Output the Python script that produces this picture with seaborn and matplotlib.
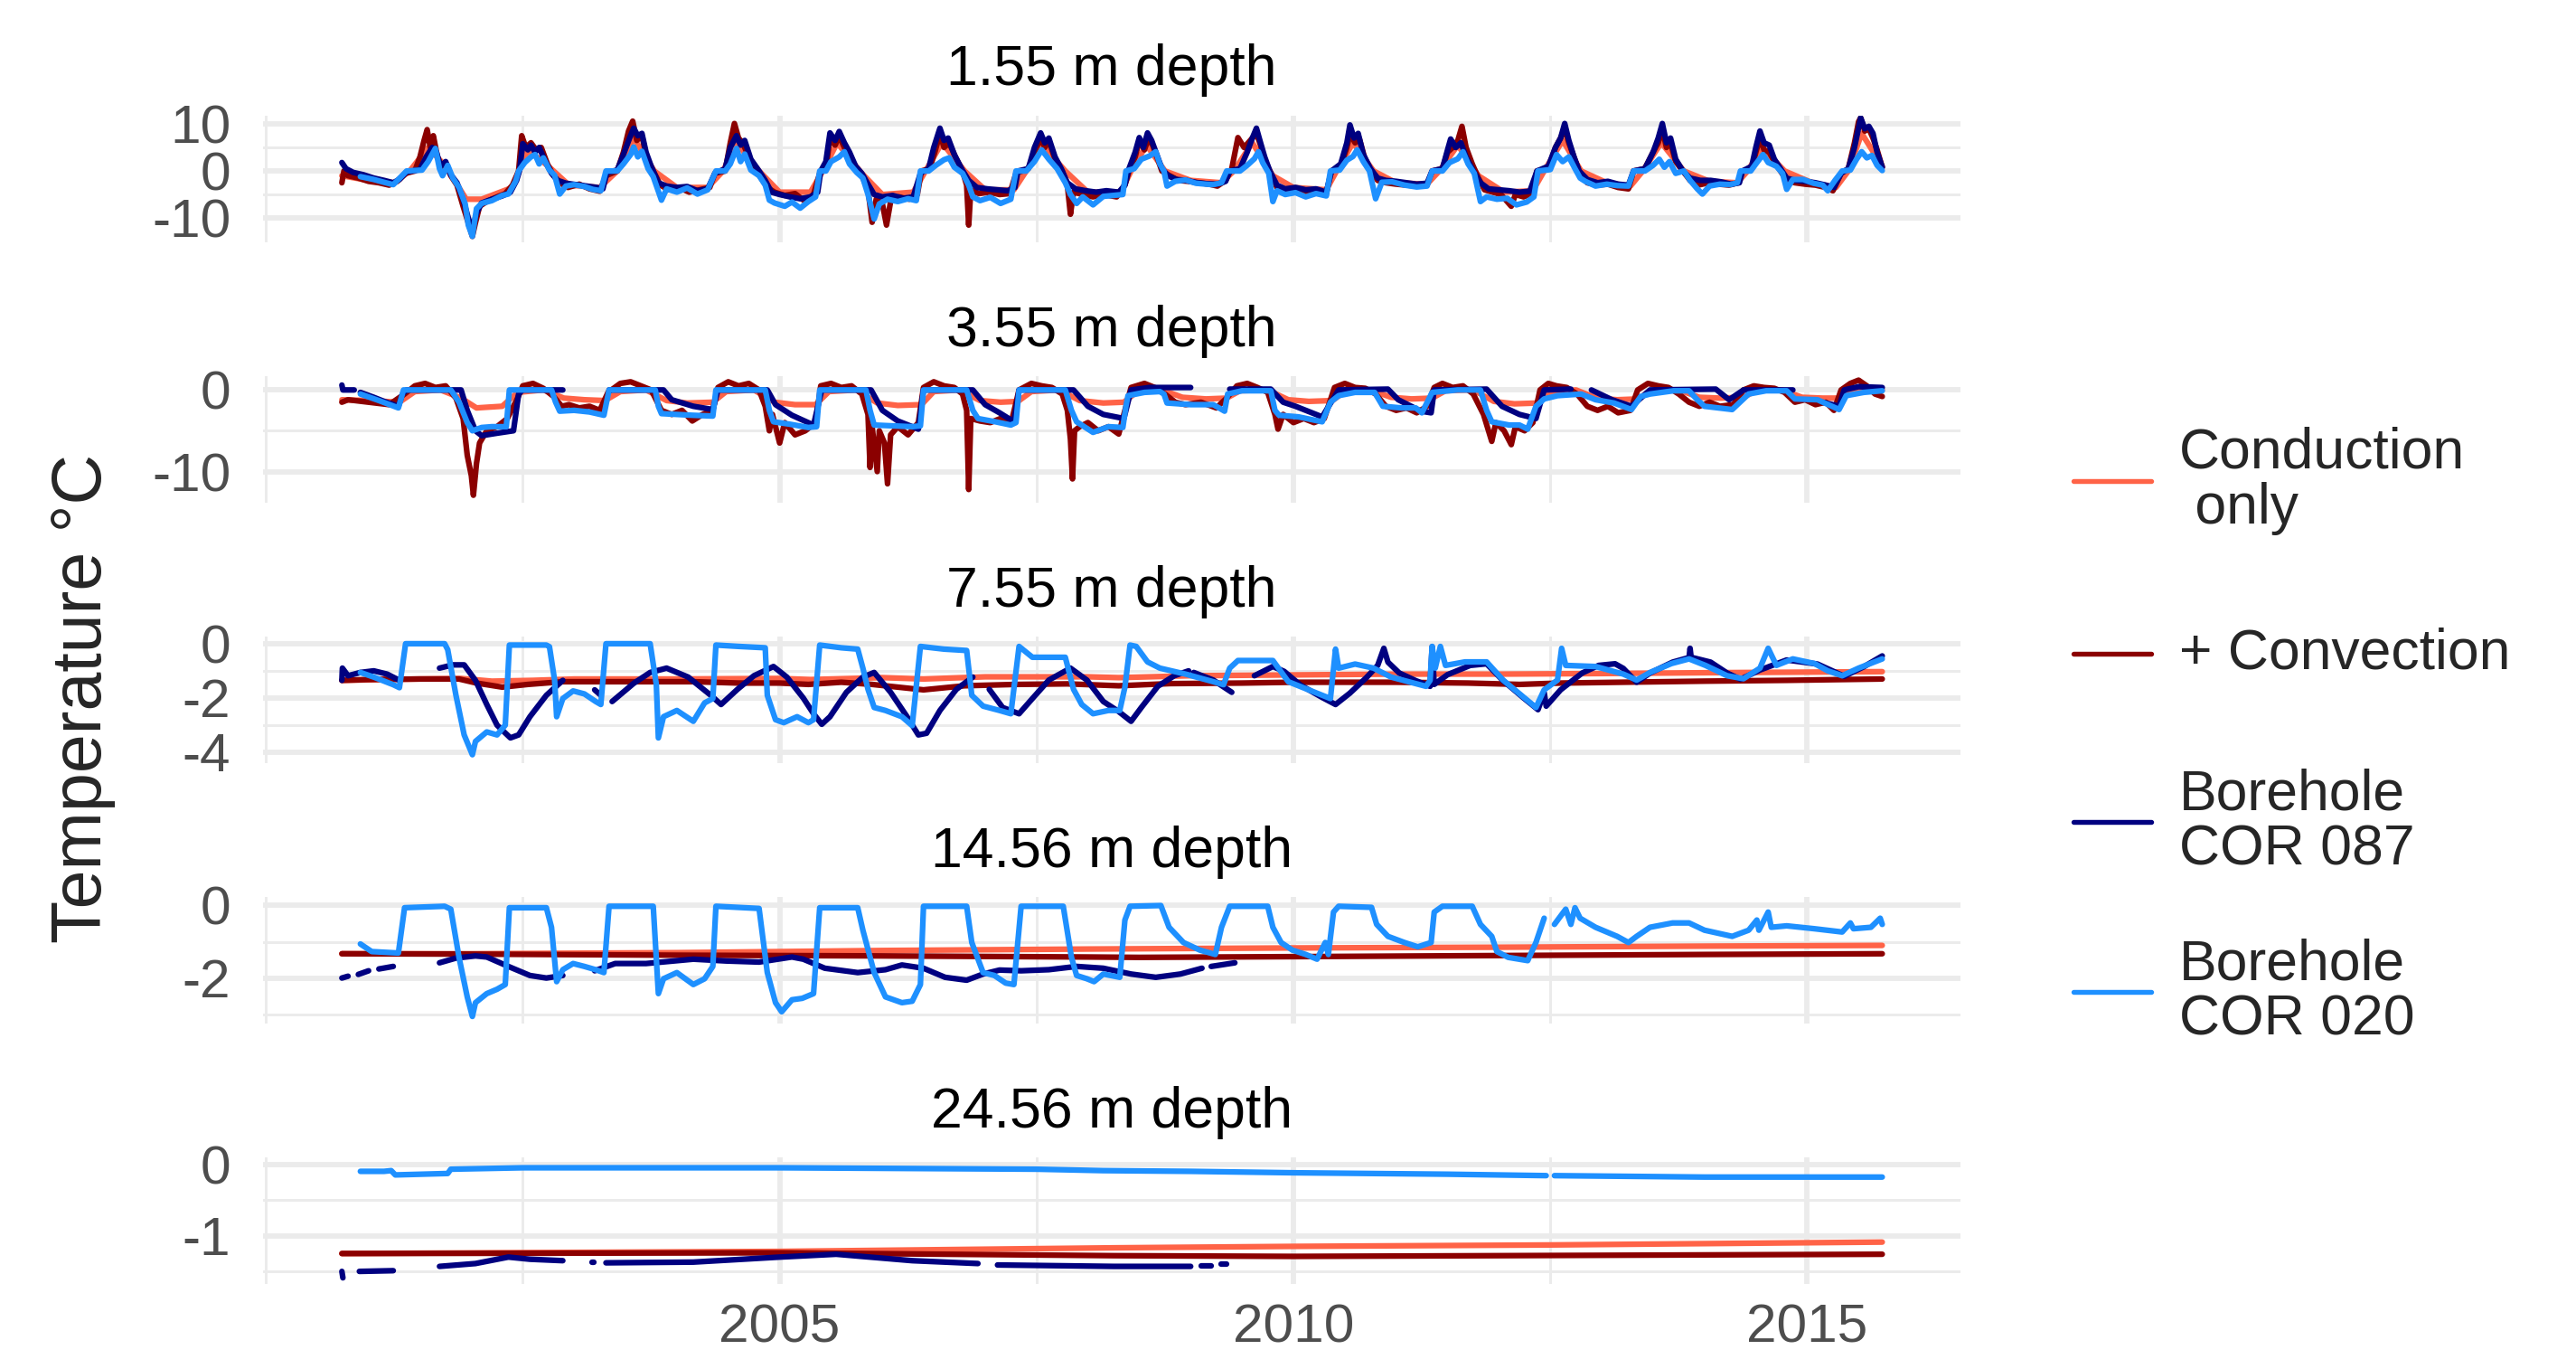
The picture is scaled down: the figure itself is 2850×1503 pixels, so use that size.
import numpy as np
import pandas as pd
import seaborn as sns
import matplotlib.pyplot as plt
from matplotlib.lines import Line2D

# series names / colours (ggplot-ish)
sources = ["Conduction\n only", "+ Convection", "Borehole\nCOR 087", "Borehole\nCOR 020"]
colors = ["tomato", "darkred", "navy", "dodgerblue"]
depths = ["1.55 m depth", "3.55 m depth", "7.55 m depth", "14.56 m depth", "24.56 m depth"]

GAP = (np.nan, np.nan)   # break in a record

# ---------------- 1.55 m ----------------
cond_155 = [(2000.74, -1.0), (2001.00, -2.0), (2001.25, -2.5), (2001.40, 0.0), (2001.58, 5.0), (2001.75, 1.0),
            (2001.95, -6.0), (2002.10, -6.0), (2002.40, -3.5), (2002.55, 4.5), (2002.75, 1.0), (2002.95, -3.0),
            (2003.25, -3.5), (2003.42, 0.0), (2003.58, 7.0), (2003.78, 0.0), (2004.00, -3.5), (2004.30, -3.5),
            (2004.45, 0.0), (2004.58, 6.0), (2004.80, 0.0), (2005.00, -4.5), (2005.30, -4.5), (2005.42, 0.0),
            (2005.56, 6.0), (2005.80, -0.5), (2006.00, -5.0), (2006.30, -4.5), (2006.42, 0.0), (2006.58, 6.0),
            (2006.80, 0.0), (2007.00, -4.0), (2007.28, -4.0), (2007.40, 0.0), (2007.56, 5.5), (2007.78, 0.0),
            (2008.00, -4.5), (2008.32, -4.5), (2008.42, 0.0), (2008.57, 5.5), (2008.75, 0.0), (2009.00, -2.0),
            (2009.30, -2.5), (2009.42, 0.0), (2009.60, 6.0), (2009.80, -1.0), (2010.00, -3.5), (2010.32, -4.0),
            (2010.42, 0.0), (2010.58, 6.0), (2010.78, 0.0), (2011.00, -2.5), (2011.30, -2.8), (2011.42, 0.0),
            (2011.60, 5.5), (2011.80, -1.0), (2012.05, -4.5), (2012.33, -4.2), (2012.44, 0.0), (2012.62, 6.5),
            (2012.80, 0.0), (2013.05, -2.5), (2013.28, -3.2), (2013.40, 0.0), (2013.58, 6.0), (2013.80, 0.0),
            (2014.05, -2.2), (2014.32, -2.5), (2014.42, 0.0), (2014.56, 5.0), (2014.78, 0.0), (2015.05, -2.5),
            (2015.28, -3.5), (2015.40, 0.0), (2015.53, 8.0), (2015.73, 1.0)]

conv_155 = [(2000.74, -2.5), (2000.76, 0.0), (2000.80, -1.0), (2000.90, -1.5), (2001.00, -2.2), (2001.10, -2.5),
            (2001.20, -3.0), (2001.28, -2.2), (2001.36, -0.5), (2001.45, 0.0), (2001.50, 3.0), (2001.54, 6.5),
            (2001.57, 8.8), (2001.60, 5.0), (2001.63, 7.5), (2001.67, 3.0), (2001.71, 1.0), (2001.75, 1.8),
            (2001.80, -1.0), (2001.86, -3.0), (2001.92, -7.5), (2001.97, -11.0), (2002.01, -13.9), (2002.04, -11.0),
            (2002.08, -7.5), (2002.15, -6.5), (2002.25, -5.5), (2002.33, -4.8), (2002.40, -3.0), (2002.46, 0.0),
            (2002.49, 7.5), (2002.53, 5.0), (2002.58, 6.0), (2002.63, 4.5), (2002.68, 5.0), (2002.74, 1.5),
            (2002.80, -1.0), (2002.86, -2.5), (2002.94, -3.5), (2003.05, -2.8), (2003.15, -3.8), (2003.25, -4.3),
            (2003.31, -1.0), (2003.42, 0.0), (2003.48, 4.0), (2003.53, 8.5), (2003.57, 10.6), (2003.61, 6.5),
            (2003.66, 7.5), (2003.71, 2.5), (2003.77, 0.0), (2003.84, -3.0), (2003.92, -4.0), (2004.02, -3.5),
            (2004.12, -4.5), (2004.22, -4.0), (2004.32, -3.5), (2004.37, -0.5), (2004.47, 0.0), (2004.52, 6.0),
            (2004.56, 10.1), (2004.60, 7.0), (2004.64, 6.0), (2004.70, 3.0), (2004.76, 0.5), (2004.82, -1.5),
            (2004.88, -3.5), (2004.95, -4.5), (2005.05, -5.2), (2005.15, -4.8), (2005.25, -6.5), (2005.33, -5.0),
            (2005.39, -0.5), (2005.45, 0.5), (2005.49, 7.0), (2005.54, 5.5), (2005.58, 7.5), (2005.63, 5.0),
            (2005.68, 3.0), (2005.74, 0.5), (2005.80, -1.0), (2005.86, -4.0), (2005.90, -10.9), (2005.94, -6.0),
            (2006.00, -7.0), (2006.04, -11.5), (2006.08, -6.5), (2006.16, -5.5), (2006.26, -6.0), (2006.34, -5.0),
            (2006.38, 0.0), (2006.46, 0.5), (2006.51, 4.0), (2006.56, 8.0), (2006.60, 5.0), (2006.65, 6.0),
            (2006.71, 3.0), (2006.78, 0.0), (2006.82, -3.0), (2006.84, -11.5), (2006.86, -4.0), (2006.94, -4.8),
            (2007.04, -4.5), (2007.14, -5.0), (2007.24, -4.8), (2007.30, -0.5), (2007.42, 0.5), (2007.48, 4.0),
            (2007.54, 7.0), (2007.58, 5.0), (2007.62, 6.5), (2007.68, 2.5), (2007.75, 0.0), (2007.80, -3.0),
            (2007.83, -9.2), (2007.86, -4.5), (2007.95, -5.0), (2008.05, -5.5), (2008.15, -5.0), (2008.28, -5.5),
            (2008.36, -3.0), (2008.40, 0.0), (2008.46, 3.0), (2008.50, 6.5), (2008.55, 4.5), (2008.59, 7.0),
            (2008.63, 5.5), (2008.68, 2.5), (2008.72, 0.0), (2008.78, -0.8), (2008.88, -2.0), (2008.98, -2.2),
            (2009.08, -2.5), (2009.18, -2.8), (2009.26, -3.2), (2009.34, -2.0), (2009.40, 0.5), (2009.46, 7.1),
            (2009.52, 5.0), (2009.58, 6.5), (2009.64, 8.0), (2009.68, 5.5), (2009.72, 2.5), (2009.77, 0.0),
            (2009.84, -3.5), (2009.92, -4.2), (2010.02, -3.8), (2010.12, -4.5), (2010.22, -4.2), (2010.32, -4.8),
            (2010.37, 0.0), (2010.46, 1.0), (2010.52, 5.0), (2010.55, 8.0), (2010.60, 6.0), (2010.64, 7.0),
            (2010.69, 3.0), (2010.75, 0.0), (2010.82, -2.0), (2010.90, -2.5), (2011.00, -2.8), (2011.10, -3.0),
            (2011.20, -3.2), (2011.30, -3.0), (2011.35, 0.0), (2011.45, 0.5), (2011.50, 4.0), (2011.55, 5.0),
            (2011.60, 6.5), (2011.64, 9.5), (2011.68, 5.0), (2011.74, 1.5), (2011.80, -1.5), (2011.86, -4.0),
            (2011.94, -4.5), (2012.02, -5.0), (2012.12, -7.5), (2012.16, -5.0), (2012.24, -5.5), (2012.32, -4.8),
            (2012.37, 0.0), (2012.48, 0.5), (2012.55, 5.0), (2012.60, 7.0), (2012.64, 9.0), (2012.68, 6.0),
            (2012.73, 3.0), (2012.78, 0.0), (2012.86, -2.5), (2012.96, -3.0), (2013.06, -2.8), (2013.16, -3.5),
            (2013.26, -3.8), (2013.31, 0.0), (2013.42, 0.5), (2013.50, 4.0), (2013.55, 6.0), (2013.59, 9.0),
            (2013.63, 5.0), (2013.67, 6.0), (2013.72, 2.0), (2013.79, 0.0), (2013.86, -2.0), (2013.94, -3.0),
            (2014.04, -2.5), (2014.14, -2.8), (2014.24, -3.0), (2014.33, -2.5), (2014.37, 0.0), (2014.46, 0.5),
            (2014.50, 4.0), (2014.54, 7.0), (2014.58, 4.5), (2014.63, 4.0), (2014.68, 2.0), (2014.74, 0.0),
            (2014.80, -2.0), (2014.88, -2.5), (2014.98, -2.8), (2015.08, -3.0), (2015.18, -3.5), (2015.25, -4.2),
            (2015.33, -0.5), (2015.40, 0.5), (2015.46, 6.0), (2015.50, 10.5), (2015.52, 11.3), (2015.56, 8.5),
            (2015.60, 9.0), (2015.64, 7.0), (2015.68, 4.5), (2015.73, 0.8)]

cor087_155 = [(2000.74, 1.8), (2000.78, 0.5), (2000.85, -0.3), (2000.95, -0.8), (2001.05, -1.5), (2001.15, -2.0),
              (2001.24, -2.5), (2001.30, -1.8), (2001.37, -0.2), (2001.50, 0.3), (2001.56, 3.0), (2001.62, 5.0),
              (2001.66, 4.0), (2001.70, 1.0), (2001.75, 2.0), (2001.80, -0.8), (2001.86, -2.5), (2001.92, -6.0),
              (2001.97, -10.0), (2002.01, -12.5), (2002.05, -9.0), (2002.10, -6.8), (2002.20, -6.0), (2002.30, -5.3),
              (2002.38, -4.5), (2002.44, -2.0), (2002.47, 0.2), (2002.50, 5.8), (2002.55, 4.5), (2002.58, 5.5),
              (2002.62, 4.0), (2002.66, 5.0), (2002.72, 2.0), (2002.78, -0.5), (2002.84, -2.0), (2002.92, -2.6),
              (2003.02, -2.9), (2003.12, -3.2), (2003.22, -3.5), (2003.28, -3.8), (2003.32, -0.3), (2003.42, 0.2),
              (2003.48, 3.5), (2003.54, 7.0), (2003.58, 9.1), (2003.62, 7.5), (2003.66, 8.0), (2003.70, 4.0),
              (2003.75, 1.0), (2003.82, -2.5), (2003.90, -3.2), (2004.00, -3.5), (2004.10, -3.3), (2004.20, -4.2),
              (2004.30, -3.8), (2004.37, -0.5), (2004.47, 0.5), (2004.52, 5.0), (2004.58, 7.5), (2004.62, 5.5),
              (2004.66, 6.5), (2004.72, 2.5), (2004.80, 0.0), (2004.86, -2.0), (2004.92, -4.5), (2005.00, -5.0),
              (2005.10, -5.5), (2005.20, -5.9), (2005.30, -5.5), (2005.37, -4.5), (2005.40, 0.0), (2005.45, 2.0),
              (2005.49, 8.1), (2005.54, 6.5), (2005.58, 8.4), (2005.63, 6.0), (2005.68, 4.0), (2005.74, 1.0),
              (2005.80, -0.5), (2005.86, -2.8), (2005.92, -5.0), (2006.00, -5.5), (2006.10, -5.2), (2006.20, -5.8),
              (2006.30, -5.5), (2006.37, -0.5), (2006.45, 0.5), (2006.50, 5.0), (2006.56, 9.1), (2006.60, 6.5),
              (2006.64, 7.0), (2006.70, 3.5), (2006.77, 0.5), (2006.84, -2.0), (2006.92, -3.5), (2007.02, -3.8),
              (2007.12, -4.0), (2007.22, -4.2), (2007.29, -3.5), (2007.32, 0.0), (2007.42, 0.5), (2007.48, 5.0),
              (2007.54, 8.1), (2007.58, 6.0), (2007.62, 7.0), (2007.68, 3.0), (2007.74, 0.5), (2007.80, -2.5),
              (2007.88, -3.8), (2007.98, -4.2), (2008.08, -4.5), (2008.18, -4.2), (2008.30, -4.5), (2008.36, -3.0),
              (2008.40, 0.5), (2008.46, 4.0), (2008.50, 7.1), (2008.54, 5.0), (2008.58, 8.1), (2008.62, 6.5),
              (2008.67, 3.5), (2008.72, 0.5), (2008.78, -1.0), (2008.86, -1.8), (2008.96, -2.0), (2009.06, -2.5),
              (2009.16, -2.7), (2009.26, -2.8), (2009.34, -2.2), (2009.38, 0.0), (2009.48, 0.5), (2009.55, 4.0),
              (2009.60, 7.0), (2009.64, 9.1), (2009.68, 6.0), (2009.72, 3.0), (2009.77, 0.0), (2009.84, -3.0),
              (2009.92, -3.8), (2010.02, -3.5), (2010.12, -4.0), (2010.22, -3.8), (2010.32, -4.5), (2010.37, 0.0),
              (2010.46, 1.5), (2010.52, 6.0), (2010.55, 9.8), (2010.59, 7.0), (2010.63, 8.0), (2010.68, 3.5),
              (2010.75, 0.5), (2010.82, -1.5), (2010.90, -2.0), (2011.00, -2.2), (2011.10, -2.5), (2011.20, -2.8),
              (2011.30, -2.6), (2011.35, 0.0), (2011.45, 0.5), (2011.50, 4.5), (2011.53, 6.8), (2011.58, 5.0),
              (2011.63, 6.0), (2011.68, 3.0), (2011.75, 0.0), (2011.82, -2.5), (2011.90, -3.8), (2012.00, -4.0),
              (2012.10, -4.2), (2012.20, -4.5), (2012.30, -4.3), (2012.37, 0.0), (2012.48, 1.0), (2012.55, 5.0),
              (2012.60, 7.0), (2012.64, 10.1), (2012.68, 6.5), (2012.73, 3.0), (2012.78, 0.0), (2012.86, -1.8),
              (2012.96, -2.5), (2013.06, -2.2), (2013.16, -2.8), (2013.26, -3.0), (2013.31, 0.0), (2013.42, 0.5),
              (2013.50, 4.0), (2013.55, 7.0), (2013.59, 10.1), (2013.63, 6.0), (2013.67, 7.0), (2013.72, 2.5),
              (2013.79, 0.0), (2013.86, -1.5), (2013.96, -2.0), (2014.06, -2.0), (2014.16, -2.3), (2014.26, -2.8),
              (2014.34, -2.5), (2014.37, 0.0), (2014.46, 1.0), (2014.50, 5.0), (2014.54, 8.5), (2014.58, 6.0),
              (2014.63, 5.5), (2014.68, 2.5), (2014.74, 0.5), (2014.80, -1.5), (2014.88, -2.0), (2014.98, -2.2),
              (2015.08, -2.5), (2015.18, -3.0), (2015.26, -3.5), (2015.33, -0.5), (2015.40, 0.5), (2015.46, 5.0),
              (2015.52, 11.3), (2015.56, 9.0), (2015.60, 9.5), (2015.64, 8.0), (2015.68, 4.0), (2015.73, 0.8)]

cor020_155 = [(2000.92, -1.2), (2001.05, -1.8), (2001.15, -2.4), (2001.24, -2.9), (2001.37, 0.0), (2001.52, 0.2),
              (2001.58, 2.0), (2001.65, 4.8), (2001.69, 0.5), (2001.72, -1.0), (2001.77, 1.2), (2001.82, -1.5),
              (2001.88, -3.5), (2001.94, -7.0), (2001.97, -11.5), (2002.01, -13.9), (2002.05, -8.0), (2002.10, -6.9),
              (2002.20, -6.3), (2002.30, -5.2), (2002.36, -4.9), (2002.43, -2.2), (2002.46, 0.0), (2002.52, 1.8),
              (2002.58, 3.0), (2002.62, 3.5), (2002.66, 1.5), (2002.70, 2.8), (2002.76, 0.2), (2002.81, -0.9),
              (2002.86, -4.9), (2002.92, -3.2), (2003.00, -2.9), (2003.10, -3.3), (2003.18, -3.9), (2003.26, -4.2),
              (2003.31, 0.0), (2003.42, 0.0), (2003.48, 1.5), (2003.55, 3.5), (2003.58, 5.1), (2003.62, 3.0),
              (2003.66, 4.2), (2003.72, 0.5), (2003.77, -1.2), (2003.85, -6.2), (2003.90, -3.8), (2004.00, -4.5),
              (2004.10, -3.6), (2004.20, -4.9), (2004.30, -4.0), (2004.38, 0.0), (2004.47, 0.0), (2004.52, 1.5),
              (2004.58, 4.8), (2004.62, 2.0), (2004.66, 3.6), (2004.72, 0.2), (2004.80, -1.0), (2004.86, -3.0),
              (2004.90, -6.2), (2004.95, -6.8), (2005.05, -7.5), (2005.12, -6.6), (2005.20, -7.9), (2005.28, -6.5),
              (2005.35, -5.5), (2005.39, 0.0), (2005.45, 0.0), (2005.50, 2.0), (2005.58, 3.0), (2005.63, 4.1),
              (2005.68, 1.5), (2005.75, -0.3), (2005.81, -1.5), (2005.86, -5.0), (2005.92, -10.2), (2005.97, -7.0),
              (2006.05, -6.0), (2006.15, -6.5), (2006.25, -5.9), (2006.33, -6.3), (2006.37, 0.0), (2006.45, 0.0),
              (2006.52, 1.2), (2006.60, 2.4), (2006.65, 2.8), (2006.70, 0.8), (2006.78, -0.5), (2006.84, -3.0),
              (2006.88, -5.5), (2006.95, -6.3), (2007.05, -5.6), (2007.15, -6.9), (2007.25, -6.0), (2007.30, 0.0),
              (2007.40, 0.0), (2007.48, 2.0), (2007.55, 4.5), (2007.62, 2.5), (2007.70, 0.5), (2007.78, -2.5),
              (2007.83, -5.0), (2007.89, -6.9), (2007.95, -5.5), (2008.05, -7.2), (2008.15, -5.4), (2008.25, -5.2),
              (2008.34, -5.0), (2008.37, 0.0), (2008.45, 0.5), (2008.52, 2.5), (2008.60, 3.2), (2008.66, 4.1),
              (2008.70, 1.5), (2008.74, 0.0), (2008.77, -3.2), (2008.85, -2.2), (2008.95, -1.9), (2009.05, -2.6),
              (2009.15, -2.8), (2009.22, -2.9), (2009.30, -2.5), (2009.35, 0.0), (2009.48, 0.0), (2009.55, 1.2),
              (2009.62, 2.6), (2009.66, 4.1), (2009.70, 1.8), (2009.76, -0.5), (2009.80, -6.5), (2009.84, -4.2),
              (2009.92, -5.0), (2010.02, -4.6), (2010.12, -5.5), (2010.22, -4.8), (2010.32, -5.3), (2010.36, 0.0),
              (2010.45, 0.2), (2010.52, 2.3), (2010.58, 3.1), (2010.62, 4.5), (2010.68, 2.0), (2010.74, 0.0),
              (2010.80, -5.9), (2010.86, -2.4), (2010.96, -2.3), (2011.08, -3.0), (2011.20, -3.4), (2011.30, -3.2),
              (2011.35, 0.0), (2011.45, 0.0), (2011.52, 1.8), (2011.60, 2.6), (2011.65, 4.1), (2011.70, 1.5),
              (2011.76, -0.5), (2011.82, -6.5), (2011.88, -5.5), (2011.98, -6.0), (2012.08, -5.8), (2012.17, -7.2),
              (2012.27, -6.6), (2012.34, -5.5), (2012.38, 0.0), (2012.50, 0.3), (2012.56, 3.5), (2012.62, 2.0),
              (2012.68, 3.0), (2012.74, 0.5), (2012.79, -1.5), (2012.84, -2.2), (2012.94, -3.2), (2013.05, -2.8),
              (2013.15, -3.1), (2013.26, -3.2), (2013.31, 0.0), (2013.42, 0.0), (2013.50, 1.2), (2013.56, 2.5),
              (2013.61, 0.8), (2013.66, 2.0), (2013.72, -0.5), (2013.80, 0.0), (2013.86, -2.0), (2013.93, -3.8),
              (2013.98, -4.9), (2014.05, -3.2), (2014.15, -2.8), (2014.25, -2.9), (2014.32, -2.5), (2014.35, 0.0),
              (2014.45, 0.0), (2014.50, 1.5), (2014.57, 3.5), (2014.62, 1.8), (2014.70, 1.0), (2014.76, -0.5),
              (2014.80, -3.9), (2014.86, -1.8), (2014.96, -1.8), (2015.06, -2.6), (2015.15, -3.0), (2015.20, -4.2),
              (2015.27, -2.0), (2015.34, 0.0), (2015.42, 0.2), (2015.48, 2.5), (2015.53, 4.1), (2015.58, 2.8),
              (2015.63, 3.3), (2015.68, 1.2), (2015.73, 0.1)]

# ---------------- 3.55 m ----------------
cond_355 = [(2000.74, -1.2), (2001.00, -1.3), (2001.30, -1.5), (2001.45, -0.2), (2001.70, 0.0), (2001.90, -1.0),
            (2002.05, -2.2), (2002.30, -2.0), (2002.45, -0.3), (2002.70, 0.0), (2002.90, -1.0), (2003.10, -1.2),
            (2003.30, -1.3), (2003.45, -0.2), (2003.70, 0.0), (2003.90, -1.3), (2004.10, -1.6), (2004.35, -1.5),
            (2004.48, -0.2), (2004.75, 0.0), (2004.95, -1.5), (2005.15, -1.8), (2005.35, -1.8), (2005.48, -0.2),
            (2005.75, 0.0), (2005.95, -1.6), (2006.15, -1.9), (2006.38, -1.8), (2006.50, -0.2), (2006.75, 0.0),
            (2006.95, -1.3), (2007.15, -1.5), (2007.32, -1.4), (2007.45, -0.2), (2007.72, 0.0), (2007.92, -1.3),
            (2008.15, -1.6), (2008.35, -1.5), (2008.48, -0.2), (2008.72, 0.0), (2008.92, -0.9), (2009.15, -1.1),
            (2009.35, -1.0), (2009.48, -0.1), (2009.75, 0.0), (2009.95, -1.2), (2010.15, -1.4), (2010.38, -1.3),
            (2010.50, -0.2), (2010.75, 0.0), (2010.95, -0.9), (2011.15, -1.1), (2011.35, -1.0), (2011.48, -0.1),
            (2011.75, 0.0), (2011.95, -1.4), (2012.15, -1.7), (2012.38, -1.6), (2012.50, -0.2), (2012.75, 0.0),
            (2012.95, -1.0), (2013.15, -1.2), (2013.35, -1.1), (2013.48, -0.1), (2013.75, 0.0), (2013.95, -0.9),
            (2014.15, -1.0), (2014.38, -0.9), (2014.50, -0.1), (2014.75, 0.0), (2014.95, -0.9), (2015.15, -1.0),
            (2015.32, -1.0), (2015.45, -0.1), (2015.73, 0.0)]

conv_355 = [(2000.74, -1.5), (2000.80, -1.2), (2001.00, -1.5), (2001.20, -1.8), (2001.35, -0.5), (2001.45, 0.5),
            (2001.55, 0.8), (2001.65, 0.3), (2001.75, 0.5), (2001.85, -1.0), (2001.92, -3.5), (2001.96, -8.0),
            (2002.00, -10.5), (2002.02, -12.9), (2002.05, -9.0), (2002.08, -6.5), (2002.15, -5.0), (2002.25, -4.5),
            (2002.35, -3.5), (2002.45, -1.0), (2002.50, 0.5), (2002.60, 0.8), (2002.70, 0.2), (2002.80, -0.8),
            (2002.88, -2.0), (2002.95, -1.8), (2003.05, -2.2), (2003.15, -2.0), (2003.25, -2.5), (2003.33, -0.3),
            (2003.45, 0.8), (2003.55, 1.0), (2003.65, 0.5), (2003.75, 0.0), (2003.85, -2.5), (2003.95, -3.0),
            (2004.05, -2.5), (2004.15, -3.8), (2004.25, -3.0), (2004.35, -2.5), (2004.40, 0.3), (2004.50, 1.0),
            (2004.60, 0.5), (2004.70, 0.8), (2004.80, 0.0), (2004.86, -2.0), (2004.90, -5.0), (2004.93, -3.0),
            (2005.00, -6.5), (2005.05, -4.0), (2005.15, -5.5), (2005.25, -5.0), (2005.35, -4.0), (2005.40, 0.5),
            (2005.50, 0.8), (2005.60, 0.3), (2005.70, 0.5), (2005.80, -0.5), (2005.86, -3.0), (2005.88, -9.5),
            (2005.90, -4.5), (2005.95, -10.0), (2005.97, -5.0), (2006.02, -6.5), (2006.05, -11.5), (2006.08, -5.5),
            (2006.15, -4.5), (2006.25, -5.5), (2006.35, -4.0), (2006.40, 0.3), (2006.50, 1.0), (2006.60, 0.5),
            (2006.70, 0.3), (2006.78, -0.5), (2006.82, -2.5), (2006.84, -12.2), (2006.86, -3.5), (2006.95, -3.8),
            (2007.05, -4.0), (2007.15, -3.5), (2007.25, -4.2), (2007.33, 0.0), (2007.45, 0.8), (2007.55, 0.5),
            (2007.65, 0.3), (2007.75, -0.5), (2007.80, -2.5), (2007.83, -6.0), (2007.85, -10.9), (2007.87, -5.0),
            (2007.92, -4.5), (2008.00, -4.0), (2008.10, -5.0), (2008.20, -4.5), (2008.30, -5.4), (2008.36, -2.5),
            (2008.42, 0.3), (2008.55, 0.8), (2008.65, 0.3), (2008.75, -0.5), (2008.85, -1.5), (2008.95, -1.8),
            (2009.10, -1.5), (2009.25, -2.2), (2009.35, -1.0), (2009.45, 0.5), (2009.55, 0.8), (2009.65, 0.3),
            (2009.75, -0.3), (2009.82, -3.0), (2009.85, -4.8), (2009.90, -3.0), (2010.00, -4.0), (2010.10, -3.5),
            (2010.20, -4.0), (2010.30, -3.5), (2010.40, 0.3), (2010.50, 0.8), (2010.60, 0.3), (2010.70, 0.2),
            (2010.80, -0.5), (2010.90, -2.0), (2011.00, -2.5), (2011.10, -2.2), (2011.20, -2.8), (2011.30, -2.0),
            (2011.37, 0.3), (2011.45, 0.8), (2011.55, 0.3), (2011.65, 0.5), (2011.75, -0.5), (2011.85, -3.0),
            (2011.93, -6.3), (2011.97, -4.0), (2012.05, -5.0), (2012.12, -6.7), (2012.16, -4.5), (2012.25, -5.0),
            (2012.33, -4.0), (2012.40, 0.0), (2012.48, 0.8), (2012.56, 0.5), (2012.66, 0.3), (2012.76, -0.5),
            (2012.86, -2.0), (2012.96, -2.5), (2013.06, -2.0), (2013.16, -2.8), (2013.28, -2.5), (2013.35, 0.0),
            (2013.45, 0.8), (2013.55, 0.5), (2013.65, 0.3), (2013.75, -0.5), (2013.85, -1.5), (2013.95, -2.0),
            (2014.05, -1.5), (2014.15, -2.0), (2014.28, -1.8), (2014.38, 0.0), (2014.48, 0.5), (2014.58, 0.3),
            (2014.68, 0.2), (2014.78, -0.3), (2014.88, -1.5), (2014.98, -1.2), (2015.08, -1.8), (2015.18, -1.5),
            (2015.26, -2.5), (2015.33, 0.0), (2015.42, 0.8), (2015.50, 1.2), (2015.58, 0.5), (2015.66, -0.5),
            (2015.73, -0.8)]

cor087_355 = [(2000.74, 0.6), (2000.75, 0.0), (2000.86, 0.0), GAP,
              (2000.92, -0.3), (2001.05, -0.9), (2001.15, -1.4), (2001.29, -2.0), (2001.33, -0.5), (2001.37, 0.0),
              (2001.90, 0.0), (2001.96, -2.5), (2002.04, -5.0), (2002.10, -5.6), (2002.25, -5.3), (2002.41, -5.0),
              (2002.46, -0.5), (2002.50, 0.0), (2002.89, 0.0), GAP,
              (2003.34, 0.0), (2003.87, 0.0), (2003.95, -1.2), (2004.16, -2.0), (2004.35, -2.4), (2004.40, 0.0),
              (2004.88, 0.0), (2004.96, -1.8), (2005.12, -3.1), (2005.33, -4.3), (2005.41, 0.0), (2005.89, 0.0),
              (2006.00, -2.5), (2006.15, -3.8), (2006.35, -4.8), (2006.40, 0.0), (2006.88, 0.0), (2007.00, -1.8),
              (2007.14, -2.8), (2007.28, -3.9), (2007.33, 0.0), (2007.86, 0.0), (2008.00, -2.0), (2008.15, -3.0),
              (2008.35, -3.5), (2008.42, 0.0), (2008.60, 0.3), (2009.00, 0.3), GAP,
              (2009.38, 0.1), (2009.78, 0.1), (2009.90, -1.5), (2010.02, -2.0), (2010.28, -3.3), (2010.44, 0.0),
              (2010.92, 0.1), (2011.02, -1.2), (2011.24, -2.6), (2011.34, -2.8), (2011.37, 0.0), (2011.88, 0.1),
              (2012.03, -2.0), (2012.20, -3.0), (2012.36, -3.5), (2012.44, 0.0), (2012.70, 0.1), GAP,
              (2012.90, 0.0), (2013.10, -1.2), (2013.29, -2.0), (2013.47, 0.0), (2014.11, 0.1), (2014.24, -1.2),
              (2014.38, 0.0), (2014.86, 0.0), GAP,
              (2015.15, -1.5), (2015.31, -2.0), (2015.36, 0.0), (2015.50, 0.4), (2015.73, 0.3)]

cor020_355 = [(2000.92, -0.5), (2001.10, -1.3), (2001.29, -2.2), (2001.34, 0.0), (2001.80, 0.0), (2001.88, -1.5),
              (2001.96, -4.0), (2002.01, -5.0), (2002.10, -4.6), (2002.20, -4.5), (2002.34, -4.5), (2002.37, 0.0),
              (2002.78, 0.0), (2002.82, -1.5), (2002.86, -2.6), (2003.00, -2.5), (2003.15, -2.7), (2003.29, -3.1),
              (2003.34, 0.0), (2003.79, 0.0), (2003.82, -2.0), (2003.85, -2.9), (2004.00, -3.0), (2004.15, -3.1),
              (2004.35, -3.2), (2004.38, 0.0), (2004.86, 0.0), (2004.90, -2.5), (2004.94, -3.9), (2005.10, -4.2),
              (2005.28, -4.6), (2005.36, -4.5), (2005.39, 0.0), (2005.84, 0.0), (2005.88, -2.5), (2005.92, -4.3),
              (2006.10, -4.4), (2006.29, -4.5), (2006.37, -4.4), (2006.40, 0.0), (2006.82, 0.0), (2006.88, -2.5),
              (2006.93, -3.5), (2007.10, -3.9), (2007.25, -4.3), (2007.30, -4.0), (2007.33, 0.0), (2007.78, 0.0),
              (2007.84, -2.5), (2007.89, -3.9), (2008.05, -5.2), (2008.20, -4.5), (2008.34, -4.6), (2008.37, -2.0),
              (2008.39, -0.7), (2008.55, -0.3), (2008.70, -0.2), (2008.74, -0.5), (2008.77, -1.6), (2009.00, -1.8),
              (2009.22, -1.8), (2009.33, -2.6), (2009.36, -0.5), (2009.50, -0.1), (2009.78, -0.1), (2009.82, -2.5),
              (2009.86, -3.1), (2010.05, -3.3), (2010.28, -3.9), (2010.36, -1.5), (2010.44, -0.7), (2010.60, -0.3),
              (2010.79, -0.3), (2010.87, -2.0), (2011.05, -2.2), (2011.19, -2.2), (2011.25, -2.8), (2011.35, -0.3),
              (2011.60, 0.0), (2011.82, 0.0), (2011.88, -2.5), (2011.93, -3.9), (2012.10, -4.3), (2012.20, -4.3),
              (2012.28, -4.8), (2012.36, -2.0), (2012.44, -1.1), (2012.57, -0.7), (2012.80, -0.5), (2012.94, -1.2),
              (2013.12, -1.6), (2013.29, -2.4), (2013.38, -0.8), (2013.47, -0.5), (2013.70, -0.1), (2013.85, -0.1),
              (2013.93, -1.2), (2014.00, -2.0), (2014.27, -2.4), (2014.43, -0.5), (2014.60, -0.1), (2014.80, -0.1),
              (2014.88, -1.1), (2015.10, -1.2), (2015.31, -2.4), (2015.38, -0.7), (2015.55, -0.3), (2015.73, -0.1)]

# ---------------- 7.55 m ----------------
cond_755 = [(2000.74, -1.35), (2001.50, -1.30), (2001.90, -1.28), (2002.20, -1.38), (2002.60, -1.35), (2003.00, -1.30),
            (2004.00, -1.30), (2005.00, -1.28), (2005.30, -1.32), (2006.00, -1.25), (2006.40, -1.30), (2007.00, -1.22),
            (2008.00, -1.22), (2008.30, -1.25), (2009.00, -1.18), (2010.00, -1.15), (2011.00, -1.12), (2012.00, -1.12),
            (2013.00, -1.10), (2014.00, -1.07), (2015.73, -1.03)]

conv_755 = [(2000.74, -1.35), (2001.00, -1.32), (2001.50, -1.30), (2001.88, -1.30), (2002.05, -1.45), (2002.30, -1.60),
            (2002.55, -1.50), (2002.89, -1.40), (2003.50, -1.40), (2004.16, -1.40), (2004.60, -1.45), (2005.00, -1.45),
            (2005.28, -1.50), (2005.60, -1.42), (2005.90, -1.50), (2006.40, -1.70), (2006.80, -1.55), (2007.30, -1.50),
            (2007.80, -1.48), (2008.30, -1.55), (2008.80, -1.47), (2009.50, -1.45), (2010.00, -1.42), (2011.00, -1.42),
            (2011.70, -1.45), (2012.20, -1.50), (2012.60, -1.45), (2013.20, -1.42), (2014.00, -1.38), (2014.80, -1.35),
            (2015.73, -1.30)]

cor087_755 = [(2000.74, -1.35), (2000.745, -0.90), (2000.80, -1.18), (2000.92, -1.06), (2001.05, -1.00), (2001.18, -1.12),
              (2001.30, -1.35), GAP,
              (2001.69, -0.90), (2001.82, -0.78), (2001.93, -0.78), (2002.04, -1.35), (2002.15, -2.24), (2002.25, -3.00),
              (2002.38, -3.47), (2002.46, -3.36), (2002.57, -2.69), (2002.73, -1.90), (2002.89, -1.35), GAP,
              (2003.20, -1.70), (2003.26, -1.90), GAP,
              (2003.37, -2.13), (2003.58, -1.46), (2003.74, -1.06), (2003.90, -0.90), (2004.11, -1.23), (2004.33, -1.90),
              (2004.43, -2.24), (2004.59, -1.68), (2004.75, -1.18), (2004.94, -0.84), (2005.07, -1.23), (2005.23, -2.00),
              (2005.33, -2.58), (2005.41, -2.97), (2005.49, -2.69), (2005.65, -1.79), (2005.81, -1.23), (2005.92, -1.06),
              (2006.08, -1.79), (2006.24, -2.69), (2006.35, -3.36), (2006.43, -3.30), (2006.56, -2.46), (2006.72, -1.68),
              (2006.88, -1.23), GAP,
              (2007.04, -1.68), (2007.17, -2.35), (2007.33, -2.58), (2007.46, -2.02), (2007.62, -1.34), (2007.83, -0.90),
              (2007.99, -1.34), (2008.15, -2.13), (2008.30, -2.50), (2008.42, -2.86), (2008.52, -2.35), (2008.68, -1.57),
              (2008.84, -1.18), (2008.98, -1.00), GAP,
              (2009.03, -1.06), (2009.22, -1.34), (2009.40, -1.79), GAP,
              (2009.62, -1.18), (2009.80, -0.84), (2009.91, -1.02), (2010.07, -1.53), (2010.28, -1.98), (2010.41, -2.24),
              (2010.55, -1.82), (2010.71, -1.25), (2010.82, -0.80), (2010.88, -0.17), (2010.92, -0.68), (2011.03, -1.08),
              (2011.19, -1.36), (2011.33, -1.57), (2011.35, -0.11), (2011.37, -1.50), (2011.50, -1.14), (2011.72, -0.80),
              (2011.88, -0.74), (2012.04, -1.36), (2012.25, -2.03), (2012.38, -2.43), (2012.44, -1.80), (2012.46, -2.30),
              (2012.60, -1.70), (2012.81, -1.08), (2012.97, -0.80), (2013.13, -0.74), (2013.21, -0.91), (2013.34, -1.42),
              (2013.47, -1.08), (2013.69, -0.68), (2013.85, -0.51), (2013.86, -0.17), (2013.87, -0.50), (2014.06, -0.68),
              (2014.22, -1.08), (2014.35, -1.31), (2014.54, -0.97), (2014.80, -0.60), (2015.10, -0.75), (2015.36, -1.20),
              (2015.55, -0.85), (2015.73, -0.45)]

cor020_755 = [(2000.92, -1.06), (2001.05, -1.23), (2001.24, -1.51), (2001.30, -1.62), (2001.36, 0.00), (2001.74, 0.00),
              (2001.77, -0.22), (2001.85, -1.90), (2001.93, -3.36), (2002.01, -4.09), (2002.04, -3.60), (2002.15, -3.25),
              (2002.25, -3.36), (2002.33, -3.00), (2002.37, -0.05), (2002.73, -0.05), (2002.76, -0.11), (2002.81, -1.34),
              (2002.83, -2.69), (2002.89, -2.02), (2002.99, -1.74), (2003.10, -1.85), (2003.21, -2.13), (2003.26, -2.24),
              (2003.31, 0.00), (2003.74, 0.00), (2003.80, -1.50), (2003.82, -3.47), (2003.87, -2.69), (2004.00, -2.46),
              (2004.16, -2.86), (2004.27, -2.18), (2004.35, -2.02), (2004.38, -0.05), (2004.60, -0.10), (2004.86, -0.15),
              (2004.88, -1.90), (2004.96, -2.80), (2005.04, -2.91), (2005.17, -2.69), (2005.28, -2.91), (2005.33, -2.80),
              (2005.39, -0.05), (2005.60, -0.15), (2005.76, -0.20), (2005.81, -0.90), (2005.86, -1.68), (2005.92, -2.35),
              (2006.03, -2.46), (2006.19, -2.69), (2006.29, -3.02), (2006.37, -0.10), (2006.60, -0.20), (2006.82, -0.25),
              (2006.87, -1.90), (2006.98, -2.30), (2007.14, -2.46), (2007.25, -2.58), (2007.33, -0.10), (2007.46, -0.50),
              (2007.78, -0.50), (2007.86, -1.68), (2007.94, -2.24), (2008.05, -2.58), (2008.20, -2.46), (2008.31, -2.46),
              (2008.36, -1.60), (2008.41, -0.05), (2008.47, -0.10), (2008.58, -0.67), (2008.70, -0.90), (2008.95, -1.12),
              (2009.22, -1.40), (2009.32, -1.51), (2009.38, -0.90), (2009.46, -0.62), (2009.80, -0.62), (2009.95, -1.40),
              (2010.28, -1.90), (2010.36, -2.02), (2010.41, -0.20), (2010.44, -0.90), (2010.60, -0.75), (2010.78, -0.90),
              (2010.95, -1.23), (2011.29, -1.57), (2011.33, -1.35), (2011.35, -0.10), (2011.38, -0.90), (2011.43, -0.10),
              (2011.48, -0.80), (2011.67, -0.67), (2011.88, -0.67), (2012.04, -1.34), (2012.36, -2.35), (2012.44, -1.70),
              (2012.57, -1.34), (2012.61, -0.17), (2012.65, -0.80), (2012.94, -0.84), (2013.21, -1.12), (2013.34, -1.34),
              (2013.47, -1.06), (2013.68, -0.73), (2013.85, -0.56), (2014.01, -0.80), (2014.22, -1.18), (2014.38, -1.29),
              (2014.54, -0.90), (2014.62, -0.17), (2014.70, -0.80), (2014.86, -0.56), (2015.07, -0.73), (2015.20, -1.00),
              (2015.34, -1.18), (2015.50, -0.90), (2015.73, -0.56)]

# ---------------- 14.56 m ----------------
cond_1456 = [(2000.74, -1.33), (2002.00, -1.33), (2004.00, -1.30), (2005.00, -1.27), (2006.00, -1.24), (2008.00, -1.20),
             (2010.00, -1.17), (2012.00, -1.15), (2014.00, -1.12), (2015.73, -1.10)]

conv_1456 = [(2000.74, -1.33), (2002.00, -1.34), (2004.00, -1.37), (2006.00, -1.39), (2008.00, -1.42), (2008.50, -1.43),
             (2010.00, -1.41), (2012.00, -1.38), (2014.00, -1.35), (2015.73, -1.33)]

cor087_1456 = [(2000.74, -2.00), (2000.80, -1.95), GAP, (2000.90, -1.90), (2001.00, -1.80), GAP,
               (2001.10, -1.75), (2001.24, -1.68), GAP,
               (2001.69, -1.58), (2001.85, -1.45), (2002.04, -1.39), (2002.15, -1.42), (2002.36, -1.68), (2002.57, -1.93),
               (2002.73, -2.00), (2002.89, -1.93), GAP,
               (2003.20, -1.80), (2003.40, -1.60), (2003.70, -1.60), (2004.16, -1.48), (2004.48, -1.53), (2004.80, -1.56),
               (2005.12, -1.42), (2005.23, -1.48), (2005.44, -1.73), (2005.76, -1.85), (2006.03, -1.77), (2006.19, -1.64),
               (2006.40, -1.73), (2006.61, -1.98), (2006.82, -2.06), (2006.98, -1.89), (2007.14, -1.78), (2007.35, -1.80),
               (2007.62, -1.77), (2007.89, -1.68), (2008.15, -1.73), (2008.42, -1.89), (2008.66, -1.98), (2008.90, -1.89),
               (2009.11, -1.73), GAP, (2009.20, -1.68), (2009.43, -1.58)]

cor020_1456 = [(2000.92, -1.06), (2001.03, -1.27), (2001.29, -1.31), (2001.35, -0.06), (2001.74, -0.02), (2001.80, -0.10),
               (2001.88, -1.43), (2001.96, -2.52), (2002.01, -3.06), (2002.04, -2.68), (2002.15, -2.43), (2002.25, -2.31),
               (2002.33, -2.18), (2002.37, -0.06), (2002.73, -0.06), (2002.78, -0.60), (2002.83, -2.10), (2002.89, -1.77),
               (2002.99, -1.60), (2003.10, -1.68), (2003.21, -1.77), (2003.29, -1.85), (2003.34, -0.02), (2003.77, -0.02),
               (2003.82, -2.43), (2003.87, -2.02), (2004.00, -1.85), (2004.16, -2.18), (2004.27, -2.02), (2004.35, -1.68),
               (2004.38, -0.02), (2004.80, -0.08), (2004.88, -1.85), (2004.96, -2.68), (2005.02, -2.93), (2005.12, -2.60),
               (2005.22, -2.56), (2005.33, -2.43), (2005.39, -0.06), (2005.76, -0.06), (2005.81, -0.68), (2005.92, -1.85),
               (2006.03, -2.52), (2006.19, -2.68), (2006.29, -2.64), (2006.37, -2.18), (2006.40, -0.02), (2006.82, -0.02),
               (2006.87, -1.02), (2006.98, -1.85), (2007.09, -1.93), (2007.20, -2.14), (2007.28, -2.18), (2007.35, -0.02),
               (2007.76, -0.02), (2007.84, -1.43), (2007.89, -1.93), (2007.99, -2.02), (2008.06, -2.10), (2008.15, -1.89),
               (2008.31, -1.98), (2008.36, -0.40), (2008.41, -0.02), (2008.71, 0.00), (2008.79, -0.60), (2008.93, -1.02),
               (2009.09, -1.23), (2009.24, -1.35), (2009.30, -0.60), (2009.38, -0.02), (2009.75, -0.02), (2009.80, -0.60),
               (2009.88, -1.02), (2009.99, -1.23), (2010.12, -1.35), (2010.23, -1.48), (2010.31, -1.02), (2010.34, -1.35),
               (2010.39, -0.18), (2010.44, -0.02), (2010.76, -0.05), (2010.81, -0.52), (2010.92, -0.85), (2011.08, -1.02),
               (2011.21, -1.14), (2011.34, -1.02), (2011.37, -0.18), (2011.45, -0.02), (2011.74, -0.02), (2011.82, -0.52),
               (2011.93, -0.85), (2011.98, -1.27), (2012.09, -1.43), (2012.28, -1.52), (2012.36, -1.02), (2012.44, -0.35),
               GAP,
               (2012.54, -0.52), (2012.65, -0.10), (2012.70, -0.52), (2012.74, -0.06), (2012.79, -0.35), (2012.94, -0.60),
               (2013.15, -0.85), (2013.26, -1.02), (2013.34, -0.85), (2013.47, -0.60), (2013.69, -0.48), (2013.85, -0.48),
               (2014.00, -0.68), (2014.27, -0.85), (2014.43, -0.68), (2014.51, -0.40), (2014.53, -0.68), (2014.62, -0.18),
               (2014.65, -0.60), (2014.80, -0.56), (2015.07, -0.64), (2015.34, -0.73), (2015.42, -0.48), (2015.45, -0.64),
               (2015.62, -0.60), (2015.71, -0.35), (2015.73, -0.52)]

# ---------------- 24.56 m ----------------
cond_2456 = [(2000.74, -1.25), (2005.00, -1.22), (2008.25, -1.17), (2010.00, -1.15), (2012.50, -1.13), (2015.73, -1.09)]

conv_2456 = [(2000.74, -1.25), (2005.00, -1.24), (2008.25, -1.28), (2010.00, -1.29), (2012.00, -1.28), (2015.73, -1.26)]

cor087_2456 = [(2000.74, -1.50), (2000.75, -1.59), GAP, (2000.91, -1.50), (2001.24, -1.49), GAP,
               (2001.69, -1.43), (2002.04, -1.39), (2002.36, -1.30), (2002.57, -1.33), (2002.89, -1.35), GAP,
               (2003.17, -1.37), (2003.19, -1.37), GAP,
               (2003.31, -1.38), (2004.16, -1.37), (2005.00, -1.30), (2005.55, -1.26), (2006.29, -1.35), (2006.93, -1.39),
               GAP,
               (2007.12, -1.41), (2008.25, -1.43), (2009.00, -1.43), GAP, (2009.10, -1.42), (2009.20, -1.42), GAP,
               (2009.30, -1.40), (2009.35, -1.40)]

cor020_2456 = [(2000.92, -0.10), (2001.15, -0.10), (2001.22, -0.09), (2001.26, -0.15), (2001.77, -0.13), (2001.80, -0.07),
               (2002.50, -0.05), (2005.00, -0.05), (2007.50, -0.07), (2008.15, -0.09), (2009.00, -0.10), (2010.00, -0.12),
               (2011.50, -0.14), (2012.46, -0.16), GAP, (2012.54, -0.16), (2014.00, -0.18), (2015.73, -0.18)]

panel_series = [
    [cond_155, conv_155, cor087_155, cor020_155],
    [cond_355, conv_355, cor087_355, cor020_355],
    [cond_755, conv_755, cor087_755, cor020_755],
    [cond_1456, conv_1456, cor087_1456, cor020_1456],
    [cond_2456, conv_2456, cor087_2456, cor020_2456],
]

# long table, one 'seg' id per unbroken piece of record
frames = []
for depth, series in zip(depths, panel_series):
    for src, pts in zip(sources, series):
        arr = np.array(pts, dtype=float)
        gap = np.isnan(arr[:, 0])
        seg = np.cumsum(gap)
        frames.append(pd.DataFrame({
            "depth": depth, "source": src,
            "year": arr[~gap, 0], "temp": arr[~gap, 1],
            "seg": [f"{src}-{s}" for s in seg[~gap]],
        }))
df = pd.concat(frames, ignore_index=True)

# axis set-up per panel
ylims = [(-15.1, 11.8), (-13.8, 1.7), (-4.4, 0.26), (-3.26, 0.23), (-1.68, 0.09)]
ymajor = [[-10, 0, 10], [-10, 0], [-4, -2, 0], [-2, 0], [-1, 0]]
yminor = [[-5, 5], [-5], [-3, -1], [-3, -1], [-1.5, -0.5]]

sns.set_theme(style="white")
plt.rcParams["font.family"] = ["Liberation Sans", "DejaVu Sans"]
plt.rcParams["axes.unicode_minus"] = False

fig, axes = plt.subplots(5, 1, figsize=(9.5, 5.01), dpi=300, sharex=True)
fig.subplots_adjust(left=0.102, right=0.761, top=0.915, bottom=0.055, hspace=1.06)

for i, ax in enumerate(axes):
    sub = df[df["depth"] == depths[i]]
    sns.lineplot(data=sub, x="year", y="temp", hue="source", hue_order=sources, palette=colors,
                 units="seg", estimator=None, linewidth=1.5, legend=False, ax=ax)
    ax.set_title(depths[i], fontsize=15, pad=8, color="black")
    ax.set_xlim(1999.97, 2016.49)
    ax.set_ylim(*ylims[i])
    ax.set_yticks(ymajor[i])
    ax.set_yticks(yminor[i], minor=True)
    ax.set_xticks([2005, 2010, 2015])
    ax.set_xticks([2000, 2002.5, 2007.5, 2012.5], minor=True)
    ax.grid(True, which="major", color="#EBEBEB", linewidth=1.4)
    ax.grid(True, which="minor", color="#EBEBEB", linewidth=0.7)
    ax.set_axisbelow(True)
    for sp in ax.spines.values():
        sp.set_visible(False)
    ax.tick_params(which="both", length=0, labelsize=14.5, labelcolor="#4D4D4D")
    ax.tick_params(axis="y", pad=8.5)
    ax.tick_params(axis="x", pad=5)
    ax.set_xlabel("")
    ax.set_ylabel("")
    if i < 4:
        ax.tick_params(labelbottom=False)

fig.text(0.032, 0.486, "Temperature °C", rotation=90, ha="center", va="center", fontsize=18.5)

# legend, ggplot style on the right
leg_y = [0.646, 0.519, 0.395, 0.270]
for src, col, y in zip(sources, colors, leg_y):
    fig.add_artist(Line2D([0.805, 0.835], [y, y], transform=fig.transFigure, color=col, linewidth=1.3))
    fig.text(0.846, y, src, ha="left", va="center", fontsize=15, linespacing=1.05)

plt.savefig("out.png", dpi=300)
